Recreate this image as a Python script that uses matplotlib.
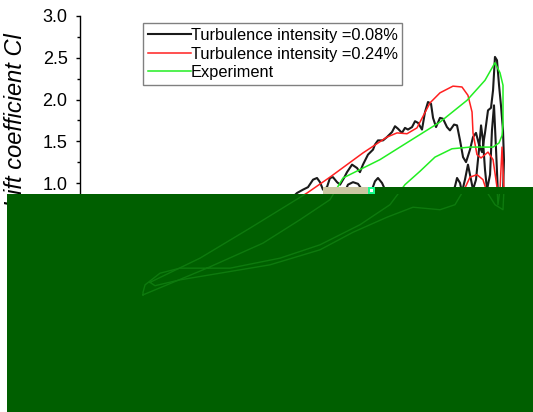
import numpy as np
import matplotlib.pyplot as plt
from matplotlib.patches import Rectangle
from matplotlib.ticker import MultipleLocator

plt.rcParams['font.family'] = ['Liberation Sans', 'DejaVu Sans']

# angle of attack (deg) and lift coefficient
exp_alpha = [-4.75, 0.58, 5.25, 8.33, 10.83, 11.92, 15.0, 17.33, 20.0, 22.25, 23.75, 24.58,
             25.0, 25.25, 25.25, 25.17, 24.92, 24.42, 22.5, 21.0, 19.58, 18.33, 17.08, 15.83,
             13.33, 10.0, 6.67, 2.5, -1.67, -3.33, -4.58, -4.75, -4.75]
exp_cl = [-0.34, -0.02, 0.28, 0.56, 0.80, 1.06, 1.28, 1.49, 1.73, 1.99, 2.23, 2.44,
          2.32, 2.17, 1.72, 1.57, 1.48, 1.43, 1.43, 1.41, 1.31, 1.14, 0.98, 0.74,
          0.50, 0.26, 0.10, -0.02, -0.02, -0.08, -0.22, -0.31, -0.34]

red_alpha = [-4.17, 0.0, 4.17, 8.92, 10.83, 13.58, 15.58, 16.42, 17.25, 18.08, 19.17, 20.0,
             21.08, 21.83, 22.33, 22.67, 22.75, 23.08, 23.42, 24.0, 24.42, 24.75, 24.83, 25.0,
             25.17, 25.33, 25.25, 24.58, 23.92, 23.58, 23.08, 22.5, 22.08, 21.25, 20.0, 17.75,
             15.58, 12.75, 10.0, 5.83, 1.67, -1.67, -3.75, -4.17]
red_cl = [-0.19, 0.10, 0.46, 0.88, 1.07, 1.36, 1.55, 1.60, 1.59, 1.66, 1.96, 2.08,
          2.16, 2.15, 2.05, 1.85, 1.60, 1.34, 1.30, 1.37, 1.28, 0.95, 0.74, 0.92,
          1.43, 0.92, 0.68, 0.74, 0.89, 1.04, 1.10, 1.07, 0.94, 0.74, 0.68, 0.71,
          0.59, 0.41, 0.20, 0.02, -0.08, -0.16, -0.23, -0.19]

black_alpha = [-4.17, 0.0, 4.17, 6.67, 7.5, 8.08, 8.58, 9.0, 9.42, 9.75, 10.0, 10.25, 10.58,
               10.83, 11.08, 11.42, 11.67, 12.0, 12.25, 12.67, 13.08, 13.33, 13.58, 14.0,
               14.42, 14.58, 14.83, 15.25, 15.58, 16.0, 16.25, 16.5, 16.83, 17.08, 17.33,
               17.67, 17.92, 18.17, 18.5, 18.75, 19.0, 19.25, 19.42, 19.67, 20.0, 20.25,
               20.58, 20.83, 21.17, 21.42, 21.67, 21.92, 22.17, 22.5, 22.75, 23.0, 23.25,
               23.5, 23.75, 24.0, 24.25, 24.42, 24.58, 24.75, 24.92, 25.08, 25.25, 25.33,
               25.25, 25.17,
               24.83, 24.67, 24.5, 24.33, 24.17, 23.92, 23.75, 23.58, 23.42, 23.25, 23.0,
               22.75, 22.5, 22.33, 22.08, 21.83, 21.67, 21.42, 21.25, 20.83, 18.33, 16.67,
               15.42, 15.17, 14.83, 14.58, 14.33, 13.75, 13.5, 13.17, 12.75, 12.33, 12.0,
               10.83, 8.33, 4.17, 0.0, -3.33, -4.17]
black_cl = [-0.22, 0.05, 0.38, 0.65, 0.80, 0.88, 0.92, 0.95, 1.04, 1.06, 1.01, 0.92, 0.95,
            1.06, 1.07, 1.01, 0.98, 1.06, 1.13, 1.22, 1.18, 1.13, 1.22, 1.34,
            1.40, 1.46, 1.51, 1.51, 1.55, 1.61, 1.68, 1.65, 1.60, 1.66, 1.64,
            1.67, 1.74, 1.72, 1.64, 1.85, 1.97, 1.95, 1.78, 1.67, 1.78, 1.77,
            1.67, 1.63, 1.70, 1.69, 1.51, 1.31, 1.25, 1.40, 1.55, 1.60, 1.46,
            1.37, 1.60, 1.87, 1.90, 2.11, 2.51, 2.47, 2.17, 1.93, 1.63, 1.28,
            0.86, 0.68,
            0.86, 1.40, 1.93, 1.63, 1.10, 0.92, 1.16, 1.51, 1.69, 1.40, 1.04,
            0.92, 1.10, 1.22, 1.04, 0.89, 1.00, 1.06, 0.96, 0.80, 0.74, 0.80,
            0.92, 1.00, 1.06, 1.02, 0.92, 0.86, 0.92, 0.99, 1.01, 0.98, 0.87,
            0.80, 0.62, 0.26, -0.02, -0.19, -0.22]

labels = ['Turbulence intensity =0.08%', 'Turbulence intensity =0.24%', 'Experiment']

W, H = 533, 412
fig = plt.figure(figsize=(W / 100, H / 100), dpi=100)
ax = fig.add_axes([80 / W, 1 - 308.25 / H, 453 / W, (308.25 - 16) / H])

ax.plot(black_alpha, black_cl, color='#1a1a1a', lw=1.5, label=labels[0],
        solid_joinstyle='round')
ax.plot(red_alpha, red_cl, color='#ff2020', lw=1.1, label=labels[1], solid_joinstyle='round')
ax.plot(exp_alpha, exp_cl, color='#22ee22', lw=1.1, label=labels[2], solid_joinstyle='round')

ax.set_xlim(-10, 27.75)
ax.set_ylim(-0.5, 3.0)
ax.yaxis.set_major_locator(MultipleLocator(0.5))
ax.yaxis.set_minor_locator(MultipleLocator(0.25))
ax.tick_params(axis='y', which='major', direction='out', length=3, width=1, pad=6, labelsize=13)
ax.tick_params(axis='y', which='minor', direction='out', length=2, width=1)
ax.spines['top'].set_visible(False)
ax.spines['right'].set_visible(False)
ax.spines['left'].set_linewidth(1.0)

ax.set_ylabel('Lift coefficient Cl', fontsize=17, style='italic')
ax.yaxis.set_label_coords(-0.117, 0.644)

leg = ax.legend(loc='upper left', bbox_to_anchor=(143 / W, 1 - 23 / H),
                bbox_transform=fig.transFigure, borderaxespad=0, fontsize=11.8,
                handlelength=2.6, handletextpad=0, labelspacing=0.22, borderpad=0.3,
                fancybox=False, framealpha=1)
leg.get_frame().set_edgecolor('#808080')
leg.get_frame().set_linewidth(1.0)

# dark green block covering the lower part of the picture
cover = Rectangle((7 / W, 0), (W - 7) / W, 1 - 194 / H, transform=fig.transFigure,
                  facecolor='#005f00', edgecolor='none', zorder=10, clip_on=False)
ax.add_artist(cover)
step = Rectangle((375 / W, 1 - 194 / H), (W - 375) / W, 7 / H, transform=fig.transFigure,
                 facecolor='#005f00', edgecolor='none', zorder=10, clip_on=False)
ax.add_artist(step)
tan = Rectangle((323 / W, 1 - 194 / H), 45 / W, 7 / H, transform=fig.transFigure,
                facecolor='#cbc7a2', edgecolor='none', zorder=10, clip_on=False)
ax.add_artist(tan)
sq = Rectangle((368 / W, 1 - 194 / H), 7 / W, 7 / H, transform=fig.transFigure,
               facecolor='#19ff8c', edgecolor='none', zorder=10, clip_on=False)
ax.add_artist(sq)
sq2 = Rectangle((370 / W, 1 - 192 / H), 3 / W, 3 / H, transform=fig.transFigure,
                facecolor='white', edgecolor='none', zorder=10, clip_on=False)
ax.add_artist(sq2)

# faint traces showing through the block
for xs, ys in [(exp_alpha, exp_cl), (red_alpha, red_cl)]:
    ln, = ax.plot(xs, ys, color='#0e7a0e', lw=1.0, zorder=11)
    ln.set_clip_path(cover)

fig.savefig('out.png', dpi=100)
